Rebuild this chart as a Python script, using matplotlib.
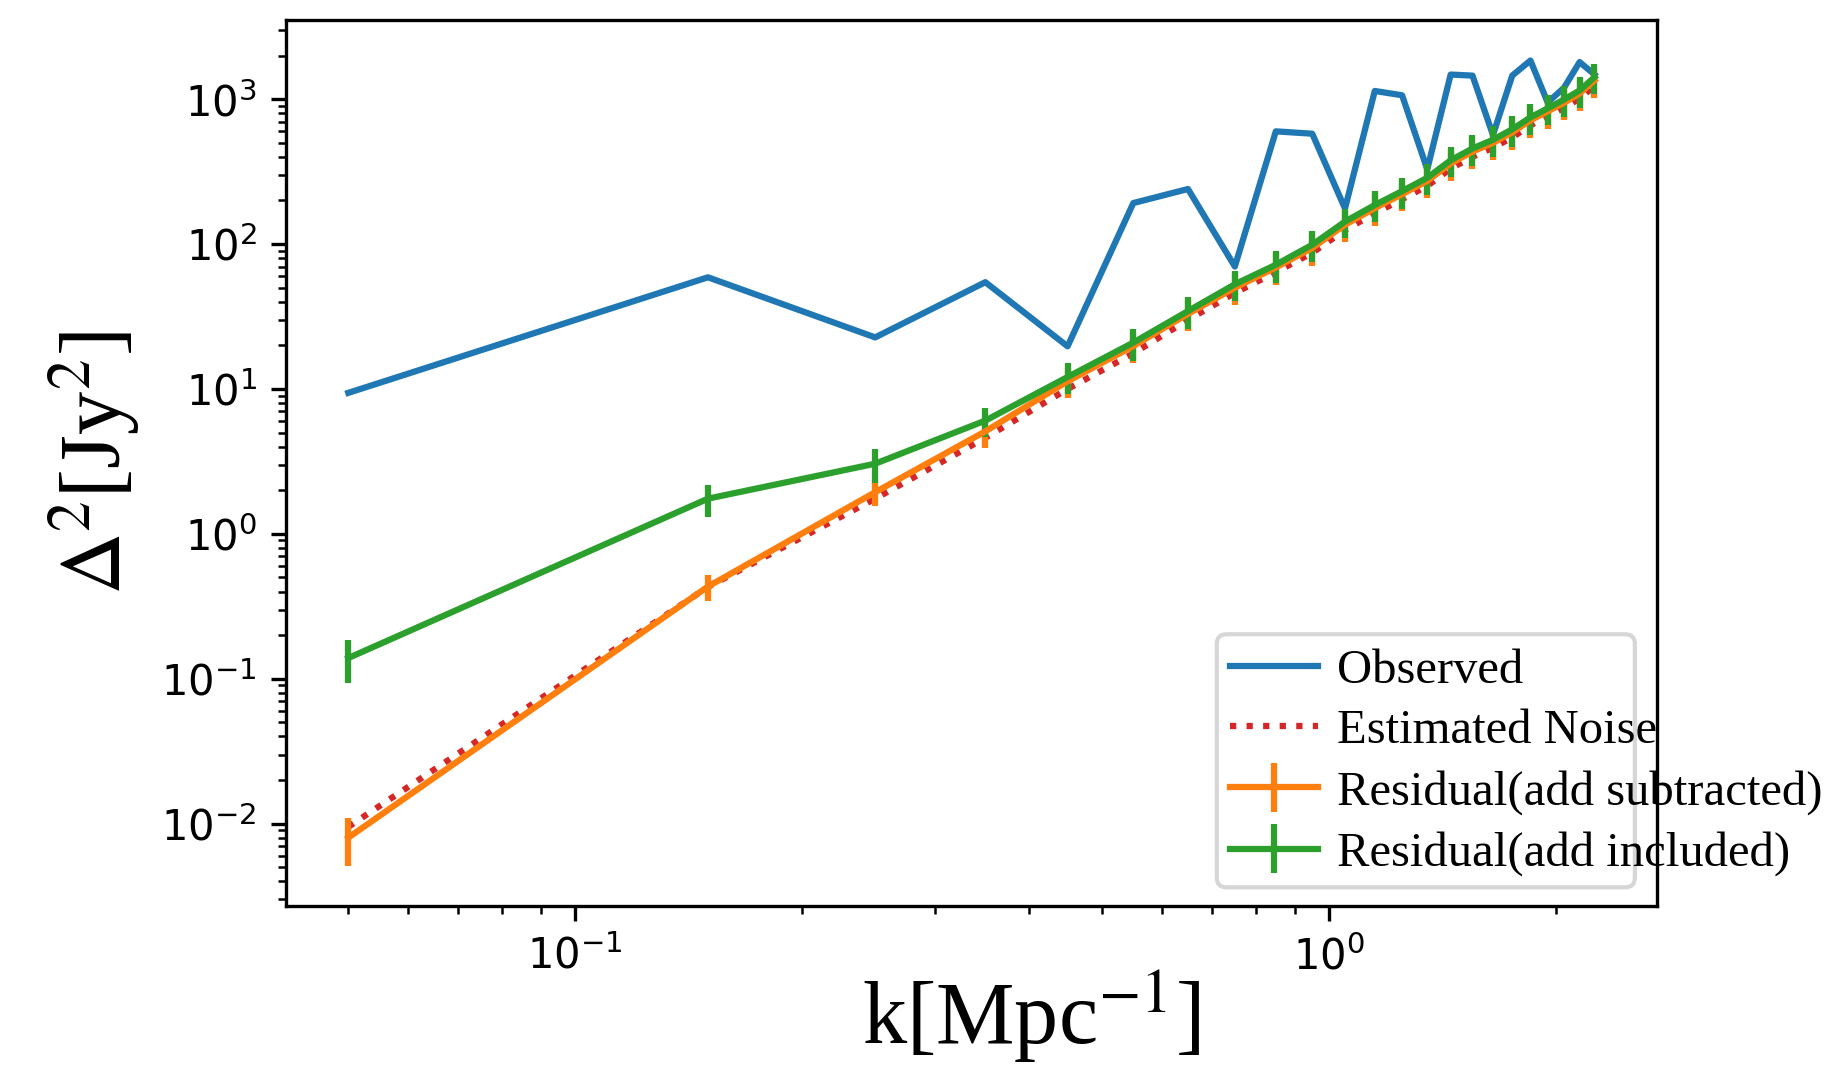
import numpy as np
import matplotlib
matplotlib.use('Agg')
import matplotlib.pyplot as plt
from matplotlib.patches import FancyBboxPatch

# k bins [Mpc^-1]
k = [0.05, 0.15, 0.25, 0.35, 0.45, 0.55, 0.65, 0.75, 0.85, 0.95, 1.05, 1.15,
     1.25, 1.35, 1.45, 1.55, 1.65, 1.75, 1.85, 1.95, 2.05, 2.15, 2.25]

# power spectra Delta^2 [Jy^2]
observed = [9.4, 59, 22.7, 54.6, 19.7, 192, 240, 70, 600, 578, 176, 1140,
            1065, 328, 1480, 1455, 566, 1455, 1850, 950, 1200, 1805, 1480]
noise = [0.0095, 0.43, 1.75, 4.6, 10.0, 17.6, 30, 46, 64, 87, 125, 163,
         204, 252, 332, 400, 462, 545, 660, 762, 872, 1010, 1240]
res_sub = [0.0080, 0.433, 1.94, 5.1, 11.3, 19.8, 33, 50, 69, 94, 136, 177,
           221, 273, 360, 435, 500, 590, 715, 825, 945, 1095, 1350]
res_sub_err = [0.0029, 0.09, 0.38, 1.2, 2.7, 4.8, 7.9, 12, 17, 23, 33, 43,
               53, 66, 86, 104, 120, 142, 172, 198, 227, 263, 324]
res_inc = [0.139, 1.75, 3.05, 6.05, 12.1, 20.9, 34.5, 52.8, 72, 99, 143, 186,
           232, 287, 379, 457, 525, 620, 750, 865, 995, 1150, 1420]
res_inc_err = [0.046, 0.44, 0.8, 1.4, 2.9, 5.2, 8.4, 12.6, 18, 24, 32, 45,
               56, 68, 90, 110, 126, 150, 180, 205, 240, 275, 340]

fig, ax = plt.subplots(figsize=(6.15, 3.567), dpi=300)
fig.subplots_adjust(left=0.155, right=0.898, top=0.981, bottom=0.153)

ax.plot(k, observed, color='C0', label='Observed')
ax.plot(k, noise, color='C3', linestyle=':', label='Estimated Noise')
ax.errorbar(k, res_sub, yerr=res_sub_err, color='C1', label='Residual(add subtracted)')
ax.errorbar(k, res_inc, yerr=res_inc_err, color='C2', label='Residual(add included)')

ax.set_xscale('log')
ax.set_yscale('log')

ax.set_xlabel(r'k[Mpc$^{-1}$]', fontsize=21.2, family='Liberation Serif',
              math_fontfamily='stix', x=0.544, labelpad=-2.5)
ax.set_ylabel(r'$\Delta^2$[Jy$^2$]', fontsize=20.8, family='Liberation Serif',
              math_fontfamily='stix', labelpad=4.3)

# legend entries, frame drawn separately behind them
leg = ax.legend(loc='upper left', bbox_to_anchor=(0.6886, 0.2907),
                borderaxespad=0, borderpad=0, frameon=False,
                handlelength=1.82, handletextpad=0.38, labelspacing=0.34,
                prop={'family': 'Liberation Serif', 'size': 11.67})
leg.set_zorder(6)
frame = FancyBboxPatch((0.679, 0.0214), 0.305, 0.2856,
                       boxstyle='round,pad=0,rounding_size=0.007',
                       mutation_aspect=1.55, transform=ax.transAxes,
                       facecolor='white', edgecolor='0.8', alpha=0.8,
                       linewidth=1.0, zorder=5)
ax.add_patch(frame)

plt.savefig('out.png')
